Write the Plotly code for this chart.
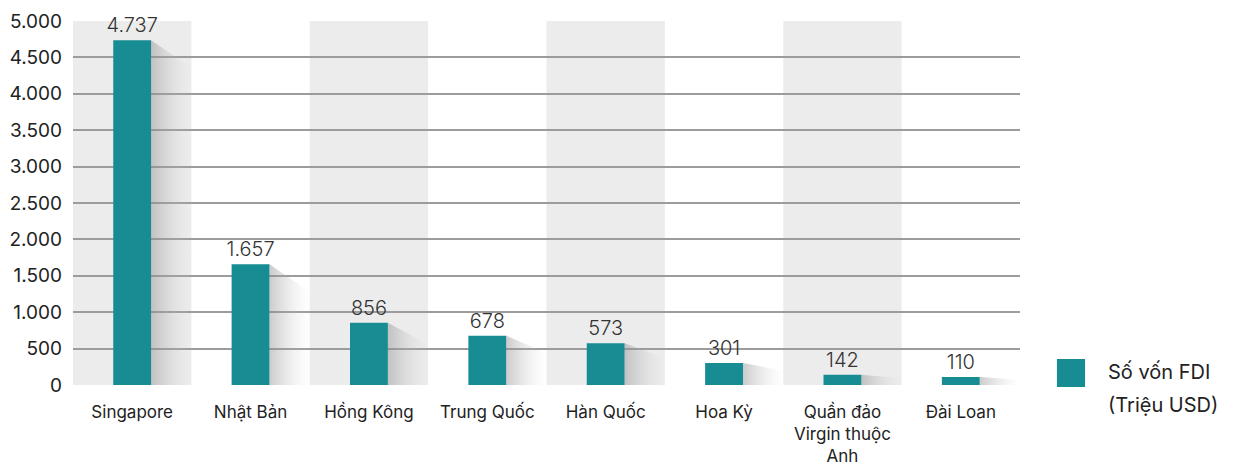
import plotly.graph_objects as go

# ---------------------------------------------------------------------------
# Data
# ---------------------------------------------------------------------------
COUNTRIES = [
    "Singapore", "Nhật Bản", "Hồng Kông", "Trung Quốc",
    "Hàn Quốc", "Hoa Kỳ", "Quần đảo<br>Virgin thuộc<br>Anh", "Đài Loan",
]
FDI_VALUES = [4737, 1657, 856, 678, 573, 301, 142, 110]
Y_TICKS = [0, 500, 1000, 1500, 2000, 2500, 3000, 3500, 4000, 4500, 5000]
SERIES_NAME = "Số vốn FDI"
SERIES_UNIT = "(Triệu USD)"

BAR_COLOR = "#178d93"
BAND_COLOR = "#ececec"
GRID_COLOR = "#9c9c9c"
TEXT_COLOR = "#222222"
FONT = "Inter, Roboto, sans-serif"
BAR_WIDTH = 0.32

xs = list(range(len(COUNTRIES)))

fig = go.Figure()

# -- alternating column bands ------------------------------------------------
for i in xs:
    if i % 2 == 0:
        fig.add_shape(type="rect", xref="x", yref="y",
                      x0=i - 0.5, x1=i + 0.5, y0=0, y1=Y_TICKS[-1],
                      fillcolor=BAND_COLOR, line_width=0, layer="below")

# -- soft shadows to the right of each bar -----------------------------------
for i, v in zip(xs, FDI_VALUES):
    right = i + BAR_WIDTH / 2
    drop = min(0.35 * v, 380)
    fig.add_trace(go.Scatter(
        x=[right, i + 0.5, i + 0.5, right, right],
        y=[v, v - drop, 0, 0, v],
        mode="lines", line=dict(width=0),
        fill="toself",
        fillgradient=dict(type="horizontal",
                          colorscale=[[0, "rgba(140,140,140,0.45)"],
                                      [1, "rgba(210,210,210,0)"]]),
        hoverinfo="skip", showlegend=False,
    ))

# -- bars ----------------------------------------------------------------------
fig.add_trace(go.Bar(
    x=xs, y=FDI_VALUES, width=BAR_WIDTH,
    marker=dict(color=BAR_COLOR, line_width=0),
    text=[f"{v:,}".replace(",", ".") for v in FDI_VALUES],
    textposition="outside", cliponaxis=False, constraintext="none",
    textfont=dict(size=20, color="#333333", family=FONT, weight=300),
    name=SERIES_NAME, showlegend=False,
))

# -- legend drawn by hand (large swatch, two text lines) -----------------------
fig.add_shape(type="rect", xref="paper", yref="paper",
              x0=1.039, x1=1.0687, y0=-0.0055, y1=0.0714,
              fillcolor=BAR_COLOR, line_width=0)
fig.add_annotation(xref="paper", yref="paper", x=1.0908, y=0.0357,
                   text=SERIES_NAME, showarrow=False, xanchor="left",
                   yanchor="middle", font=dict(size=20, color=TEXT_COLOR))
fig.add_annotation(xref="paper", yref="paper", x=1.0908, y=-0.0549,
                   text=SERIES_UNIT, showarrow=False, xanchor="left",
                   yanchor="middle", font=dict(size=20, color=TEXT_COLOR))

# page body adds an 8px margin, so the figure is a bit smaller and shifted
fig.update_layout(
    width=1225, height=460,
    margin=dict(l=65, r=213, t=13, b=83, autoexpand=False),
    paper_bgcolor="white", plot_bgcolor="white",
    font=dict(family=FONT, color=TEXT_COLOR),
    separators=",.",
    showlegend=False,
)
fig.update_xaxes(
    range=[-0.5, len(COUNTRIES) - 0.5],
    tickvals=xs, ticktext=COUNTRIES,
    tickfont=dict(size=17, color=TEXT_COLOR),
    showgrid=False, zeroline=False, showline=False,
    ticks="", ticklabelstandoff=15, automargin=False,
)
fig.update_yaxes(
    range=[0, Y_TICKS[-1]], tickvals=Y_TICKS, tickformat=",d",
    tickfont=dict(size=19, color=TEXT_COLOR),
    showgrid=True, gridcolor=GRID_COLOR, gridwidth=2,
    zeroline=False, showline=False, ticks="", ticklabelstandoff=10,
    automargin=False,
)

fig.write_html("out.html")
